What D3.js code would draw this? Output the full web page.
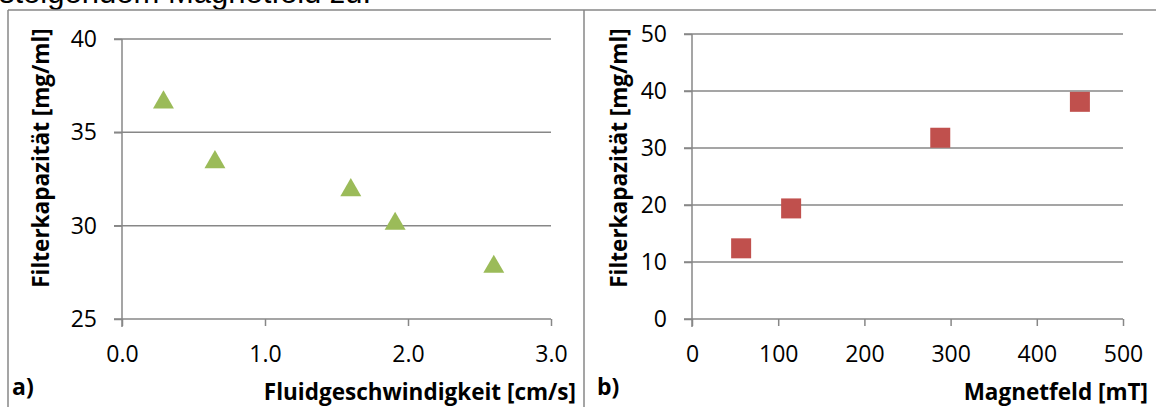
<!DOCTYPE html>
<html>
<head>
<meta charset="utf-8">
<script src="https://d3js.org/d3.v7.min.js"></script>
<style>
  body { margin: 0; background: #fff; }
  svg text { font-family: "Open Sans", sans-serif; fill: #000; }
</style>
</head>
<body>
<svg id="chart" width="1156" height="407"></svg>
<script>
// panel a) Filterkapazität vs Fluidgeschwindigkeit
const speedX = [0.29, 0.65, 1.6, 1.91, 2.6];
const speedCap = [36.6, 33.4, 31.9, 30.1, 27.8];
const speedTicksX = [0, 1, 2, 3];
const speedTicksY = [25, 30, 35, 40];

// panel b) Filterkapazität vs Magnetfeld
const fieldX = [57, 115, 288, 450];
const fieldCap = [12.4, 19.4, 31.8, 38.1];
const fieldTicksX = [0, 100, 200, 300, 400, 500];
const fieldTicksY = [0, 10, 20, 30, 40, 50];

const svg = d3.select("#chart");
const grey = "#878787";

// caption text cut at top of page
svg.append("text")
   .attr("x", -1).attr("y", 3)
   .style("font-family", "'Liberation Sans', Arial, sans-serif")
   .style("font-size", "31px")
   .text("steigendem Magnetfeld zu.");

// frame lines
const frame = svg.append("g").attr("stroke", grey).attr("stroke-width", 1.5);
frame.append("line").attr("x1", 8).attr("x2", 1156).attr("y1", 10).attr("y2", 10);
frame.append("line").attr("x1", 8).attr("x2", 8).attr("y1", 10).attr("y2", 407);
frame.append("line").attr("x1", 584).attr("x2", 584).attr("y1", 10).attr("y2", 407);

function panel(opt) {
    const g = svg.append("g");
    const x = d3.scaleLinear().domain(opt.xDomain).range([opt.left, opt.right]);
    const y = d3.scaleLinear().domain(opt.yDomain).range([opt.bottom, opt.top]);

    // gridlines
    g.selectAll("line.grid").data(opt.yTicks.slice(1))
        .join("line").attr("class", "grid")
        .attr("x1", opt.left - 8).attr("x2", opt.right)
        .attr("y1", d => y(d)).attr("y2", d => y(d))
        .attr("stroke", grey).attr("stroke-width", 1.5);

    // y axis
    const yAxis = g.append("g").attr("transform", `translate(${opt.left},0)`)
        .call(d3.axisLeft(y).tickValues(opt.yTicks).tickSize(8).tickPadding(17).tickFormat(d3.format("d")));
    // x axis
    const xAxis = g.append("g").attr("transform", `translate(0,${opt.bottom})`)
        .call(d3.axisBottom(x).tickValues(opt.xTicks).tickSize(7).tickPadding(20).tickFormat(opt.xFormat));
    [yAxis, xAxis].forEach(a => {
        a.select(".domain").remove();
        a.selectAll("line").attr("stroke", grey).attr("stroke-width", 1.5);
        a.selectAll("text").style("font-size", "23px").attr("fill", "#000")
            .style("font-family", "'Open Sans', sans-serif");
    });
    g.append("line").attr("x1", opt.left).attr("x2", opt.left)
        .attr("y1", opt.top).attr("y2", opt.bottom + 8)
        .attr("stroke", grey).attr("stroke-width", 1.5);
    g.append("line").attr("x1", opt.left - 8).attr("x2", opt.right)
        .attr("y1", opt.bottom).attr("y2", opt.bottom)
        .attr("stroke", grey).attr("stroke-width", 1.5);

    // markers
    const pts = opt.xs.map((v, i) => ({x: v, y: opt.ys[i]}));
    g.selectAll("path.mark").data(pts).join("path").attr("class", "mark")
        .attr("d", d3.symbol().type(opt.symbol).size(opt.symbolSize))
        .attr("transform", d => `translate(${x(d.x)},${y(d.y)})`)
        .attr("fill", opt.color);

    // titles
    g.append("text")
        .attr("transform", `translate(${opt.yTitleX},158) rotate(-90)`)
        .attr("text-anchor", "middle")
        .style("font-size", "22.5px").style("font-weight", "bold")
        .text("Filterkapazität [mg/ml]");
    g.append("text")
        .attr("x", opt.xTitleRight).attr("y", 400)
        .attr("text-anchor", "end")
        .style("font-size", "22.5px").style("font-weight", "bold")
        .text(opt.xTitle);
    g.append("text")
        .attr("x", opt.tagX).attr("y", 395)
        .style("font-size", "23px").style("font-weight", "bold")
        .text(opt.tag);
}

panel({
    xs: speedX, ys: speedCap, xTicks: speedTicksX, yTicks: speedTicksY,
    xDomain: [0, 3], yDomain: [25, 40],
    left: 122, right: 551, top: 39, bottom: 319,
    xFormat: d3.format(".1f"),
    symbol: d3.symbolTriangle, symbolSize: 190, color: "#9BBB59",
    yTitleX: 49, xTitle: "Fluidgeschwindigkeit [cm/s]", xTitleRight: 576,
    tag: "a)", tagX: 12
});

panel({
    xs: fieldX, ys: fieldCap, xTicks: fieldTicksX, yTicks: fieldTicksY,
    xDomain: [0, 500], yDomain: [0, 50],
    left: 692, right: 1123, top: 34, bottom: 319,
    xFormat: d3.format("d"),
    symbol: d3.symbolSquare, symbolSize: 400, color: "#C0504D",
    yTitleX: 627, xTitle: "Magnetfeld [mT]", xTitleRight: 1148,
    tag: "b)", tagX: 597
});
</script>
</body>
</html>
